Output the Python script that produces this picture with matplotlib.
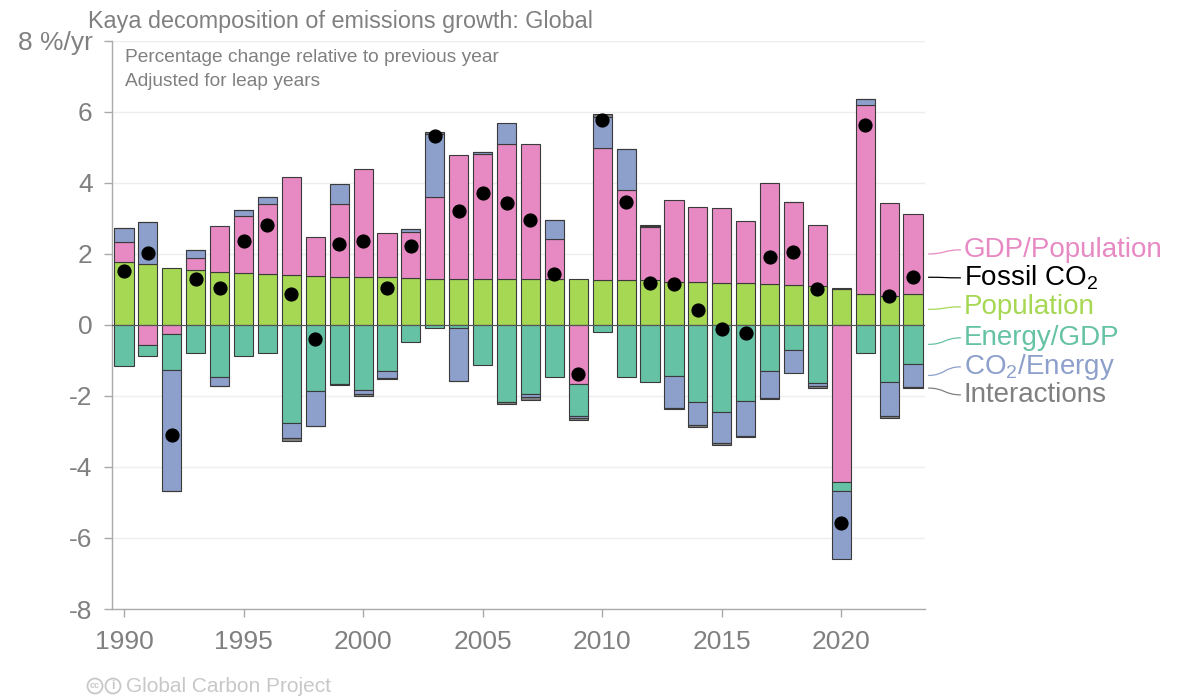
import numpy as np
import matplotlib
matplotlib.use("Agg")
import matplotlib.pyplot as plt
from matplotlib.path import Path
from matplotlib.patches import PathPatch, Circle

plt.rcParams['font.family'] = ['Liberation Sans', 'DejaVu Sans']
plt.rcParams['mathtext.fontset'] = 'custom'
plt.rcParams['mathtext.rm'] = 'Liberation Sans'

# Data (% per year)
years = np.arange(1990, 2024)
population = [1.76, 1.71, 1.59, 1.55, 1.50, 1.47, 1.43, 1.41, 1.38, 1.34,
              1.34, 1.34, 1.31, 1.29, 1.28, 1.28, 1.28, 1.28, 1.28, 1.28,
              1.27, 1.27, 1.25, 1.22, 1.22, 1.19, 1.17, 1.14, 1.11, 1.08,
              1.00, 0.87, 0.82, 0.87]
gdp_per_pop = [0.58, -0.56, -0.25, 0.34, 1.28, 1.60, 1.98, 2.74, 1.08, 2.06,
               3.04, 1.24, 1.29, 2.30, 3.50, 3.52, 3.81, 3.80, 1.13, -1.67,
               3.72, 2.54, 1.51, 2.29, 2.09, 2.09, 1.75, 2.84, 2.34, 1.73,
               -4.42, 5.32, 2.60, 2.25]
energy_per_gdp = [-1.17, -0.31, -1.02, -0.80, -1.47, -0.89, -0.80, -2.76, -1.86, -1.66,
                  -1.83, -1.29, -0.48, -0.09, -0.09, -1.13, -2.18, -1.94, -1.48, -0.89,
                  -0.19, -1.47, -1.62, -1.45, -2.18, -2.46, -2.13, -1.31, -0.72, -1.64,
                  -0.26, -0.78, -1.61, -1.10]
co2_per_energy = [0.38, 1.19, -3.40, 0.22, -0.25, 0.16, 0.20, -0.43, -0.98, 0.56,
                  -0.11, -0.22, 0.10, 1.79, -1.48, 0.06, 0.58, -0.09, 0.54, -0.06,
                  0.87, 1.13, 0.02, -0.89, -0.65, -0.87, -0.99, -0.75, -0.64, -0.09,
                  -1.92, 0.18, -0.97, -0.65]
interactions = [0.00, 0.00, -0.01, 0.00, -0.01, 0.00, 0.00, -0.09, -0.02, -0.03,
                -0.06, -0.02, 0.00, 0.04, -0.02, 0.00, -0.05, -0.08, 0.00, -0.05,
                0.08, 0.00, 0.03, -0.03, -0.05, -0.05, -0.04, -0.02, 0.00, -0.05,
                0.03, 0.00, -0.03, -0.03]
fossil_co2 = [1.53, 2.01, -3.09, 1.29, 1.05, 2.36, 2.81, 0.88, -0.40, 2.28,
              2.36, 1.05, 2.23, 5.31, 3.21, 3.72, 3.42, 2.96, 1.43, -1.39,
              5.76, 3.45, 1.17, 1.14, 0.42, -0.12, -0.23, 1.90, 2.06, 1.01,
              -5.57, 5.62, 0.82, 1.34]

components = [population, gdp_per_pop, energy_per_gdp, co2_per_energy, interactions]
colors = ['#A6D854', '#E78AC3', '#66C2A5', '#8DA0CB', '#808080']

fig = plt.figure(figsize=(11.77, 6.98), dpi=100)
ax = fig.add_axes([0.0952, 0.1275, 0.6907, 0.8142])

# gridlines
for g in range(-8, 10, 2):
    ax.axhline(g, color='#eeeeee', lw=1, zorder=0)

# stacked bars, positives up and negatives down
pos_bottom = np.zeros(len(years))
neg_bottom = np.zeros(len(years))
for vals, c in zip(components, colors):
    vals = np.array(vals)
    bottom = np.where(vals >= 0, pos_bottom, neg_bottom)
    ax.bar(years, vals, bottom=bottom, width=0.8, color=c,
           edgecolor='#3a3a3a', linewidth=0.8, zorder=2)
    pos_bottom = pos_bottom + np.where(vals >= 0, vals, 0)
    neg_bottom = neg_bottom + np.where(vals < 0, vals, 0)

ax.axhline(0, color='#555555', lw=0.8, zorder=3)
ax.scatter(years, fossil_co2, s=85, color='black', zorder=4)

ax.set_xlim(1989.5, 2023.5)
ax.set_ylim(-8, 8)
ax.set_xticks(range(1990, 2021, 5))
ax.set_yticks(range(-8, 9, 2))
ax.set_yticklabels([str(v) for v in range(-8, 8, 2)] + ['8 %/yr'])
for s in ['top', 'right']:
    ax.spines[s].set_visible(False)
for s in ['left', 'bottom']:
    ax.spines[s].set_color('#aaaaaa')
    ax.spines[s].set_linewidth(1)
ax.tick_params(axis='both', colors='#aaaaaa', length=6, width=1,
               labelcolor='#808080', labelsize=19)
ax.tick_params(axis='x', pad=9)
ax.tick_params(axis='y', pad=8)

# titles
fig.text(88 / 1177, 1 - 28 / 698, 'Kaya decomposition of emissions growth: Global',
         ha='left', va='baseline', fontsize=16.8, color='#808080')
fig.text(125 / 1177, 1 - 58 / 698, 'Percentage change relative to previous year',
         ha='left', va='center', fontsize=13.8, color='#808080')
fig.text(125 / 1177, 1 - 81 / 698, 'Adjusted for leap years',
         ha='left', va='center', fontsize=13.8, color='#808080')

# side labels with leader lines from the last bar
last = len(years) - 1
p, g, e, c, i = (population[last], gdp_per_pop[last], energy_per_gdp[last],
                 co2_per_energy[last], interactions[last])
label_names = ['GDP/Population', 'Fossil CO$_\\mathregular{2}$', 'Population',
               'Energy/GDP', 'CO$_\\mathregular{2}$/Energy', 'Interactions']
label_colors = ['#E78AC3', '#000000', '#A6D854', '#66C2A5', '#8DA0CB', '#808080']
starts = [p + g / 2, fossil_co2[last], p / 2, e / 2, e + c / 2, e + c + i]
label_px = [250, 278, 307, 338, 367, 395]
x0, x1 = 2023.63, 2025.0
for name, col, y0, py in zip(label_names, label_colors, starts, label_px):
    y1 = (325 - py) / 35.52
    path = Path([(x0, y0), (x0 + 0.7, y0), (x1 - 0.7, y1), (x1, y1)],
                [Path.MOVETO, Path.CURVE4, Path.CURVE4, Path.CURVE4])
    ax.add_patch(PathPatch(path, facecolor='none', edgecolor=col, lw=0.9,
                           clip_on=False, zorder=1))
    ax.text(x1 + 0.12, y1, name, ha='left', va='center', fontsize=20,
            color=col, clip_on=False)

# footer: cc / by icons drawn as circles, then the text
foot_col = '#c8c8c8'
for cx, sym, fs in [(0.95, 'cc', 6.5), (1.13, 'i', 9)]:
    fig.patches.append(Circle((cx, 0.12), 0.075, transform=fig.dpi_scale_trans,
                              facecolor='none', edgecolor=foot_col, lw=1.3))
    fig.text(cx, 0.12, sym, transform=fig.dpi_scale_trans, ha='center',
             va='center', fontsize=fs, color=foot_col, fontweight='bold')
fig.text(126 / 1177, 1 - 686 / 698, 'Global Carbon Project', ha='left', va='center',
         fontsize=15, color=foot_col)

fig.savefig('out.png', dpi=100)
